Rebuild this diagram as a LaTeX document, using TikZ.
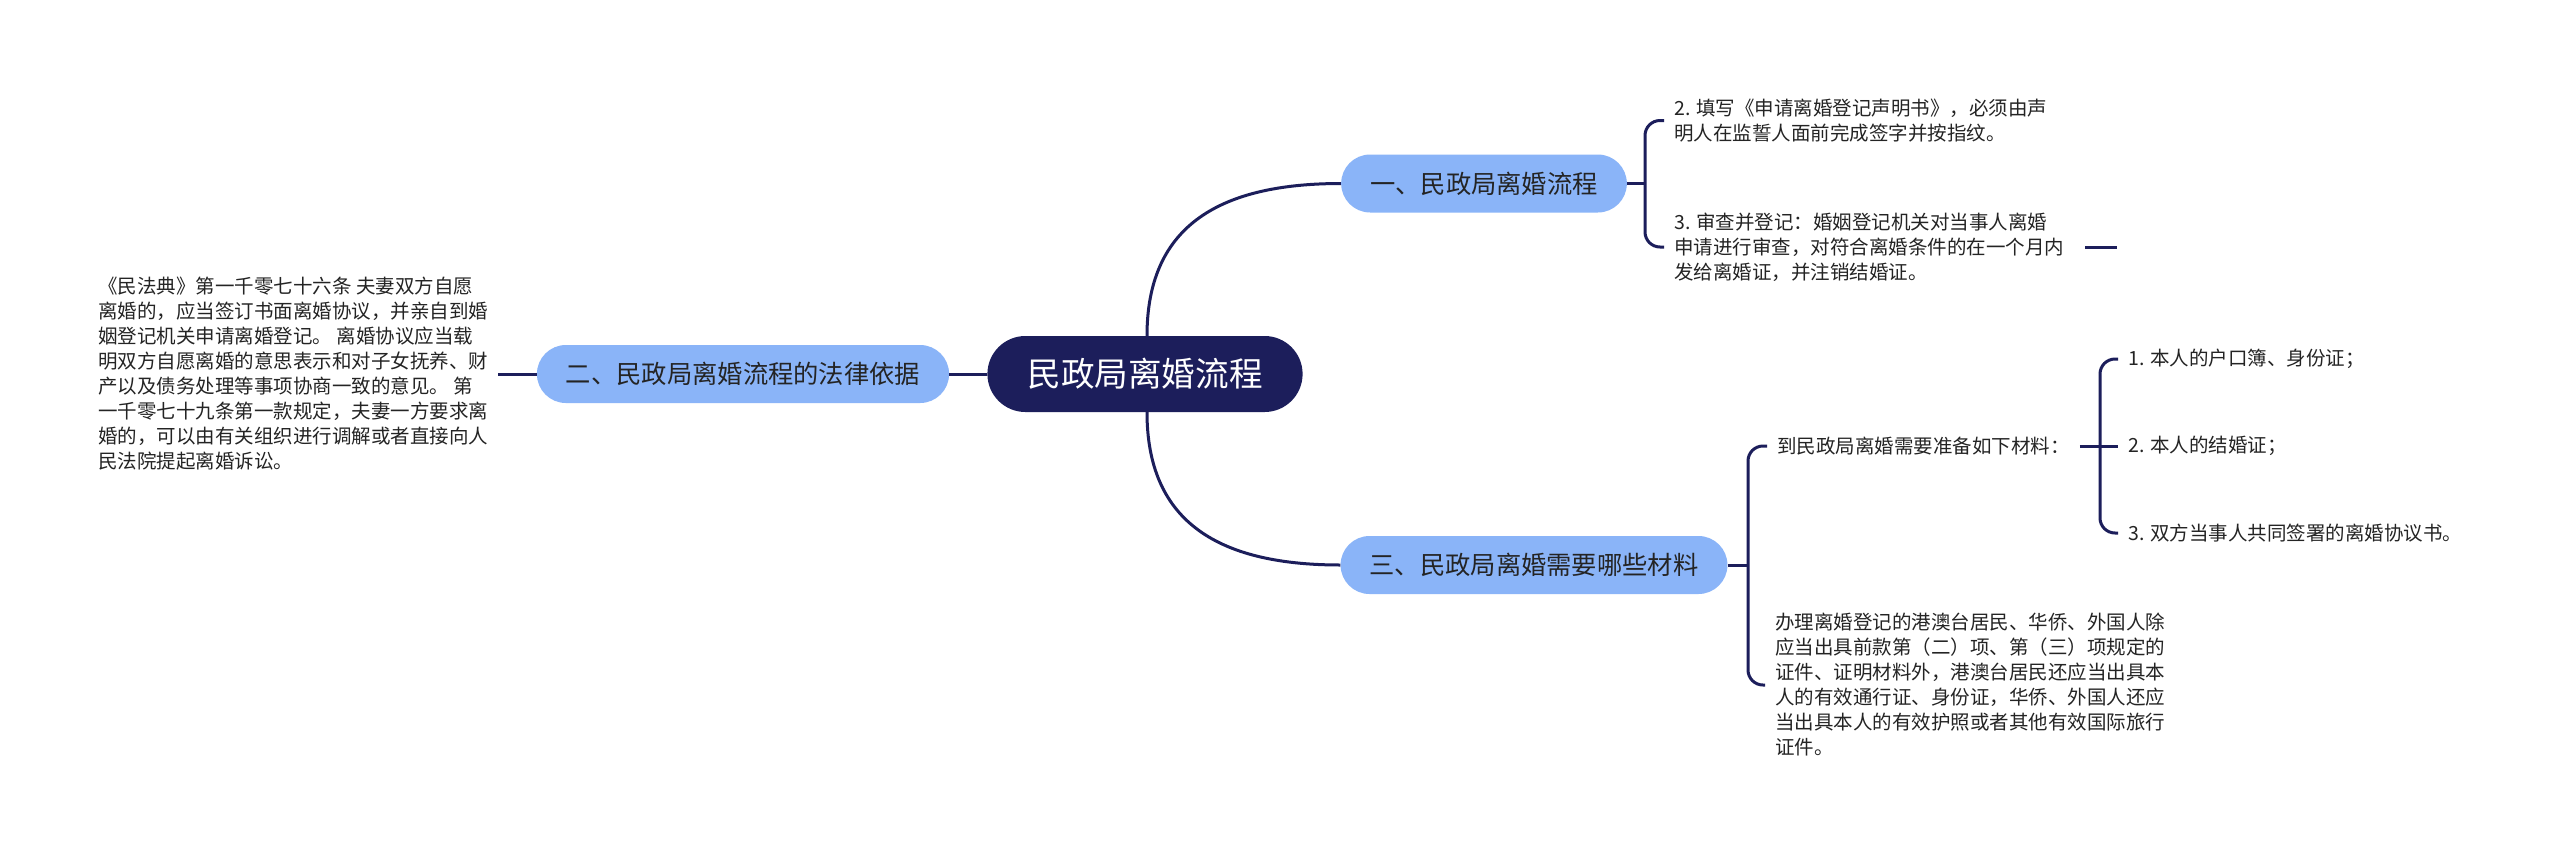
\documentclass[tikz,border=0pt]{standalone}
\usepackage{fontspec}
\newfontfamily\cjk{Noto Sans CJK SC}
\definecolor{mmnavy}{HTML}{1C1E5B}
\definecolor{mmblue}{HTML}{8AB4F8}
\definecolor{mmtxt}{HTML}{242424}
\begin{document}
\begin{tikzpicture}[x=1pt,y=-1pt,
  conn/.style={draw=mmnavy,line width=3pt},
  brace/.style={conn,rounded corners=15pt},
  rootbox/.style={fill=mmnavy,text=white,rounded corners=38pt,minimum height=76pt,inner xsep=40pt,inner ysep=0pt,font=\cjk\fontsize{33.6}{40}\selectfont},
  topic/.style={fill=mmblue,text=mmtxt,rounded corners=29pt,minimum height=58pt,inner xsep=29pt,inner ysep=0pt,font=\cjk\fontsize{25.3}{30}\selectfont},
  leaf/.style={anchor=west,text=mmtxt,align=left,inner xsep=10pt,inner ysep=2pt,font=\cjk\fontsize{19.5}{25}\selectfont},
]
\useasboundingbox[fill=white] (0,0) rectangle (2560,855);

\node[rootbox] (C) at (1145,374) {民政局离婚流程};
\node[topic] (n1) at (1484,183.5) {一、民政局离婚流程};
\node[topic] (n2) at (743,374) {二、民政局离婚流程的法律依据};
\node[topic] (n3) at (1534,565) {三、民政局离婚需要哪些材料};

\node[leaf] (t2) at (1664,120.5) {2. 填写《申请离婚登记声明书》，必须由声\\明人在监誓人面前完成签字并按指纹。};
\node[leaf] (t3) at (1664,247) {3. 审查并登记：婚姻登记机关对当事人离婚\\申请进行审查，对符合离婚条件的在一个月内\\发给离婚证，并注销结婚证。};

\node[leaf] (L) at (88,374) {《民法典》第一千零七十六条 夫妻双方自愿\\离婚的，应当签订书面离婚协议，并亲自到婚\\姻登记机关申请离婚登记。 离婚协议应当载\\明双方自愿离婚的意思表示和对子女抚养、财\\产以及债务处理等事项协商一致的意见。 第\\一千零七十九条第一款规定，夫妻一方要求离\\婚的，可以由有关组织进行调解或者直接向人\\民法院提起离婚诉讼。};

\node[leaf] (m1) at (1767,446) {到民政局离婚需要准备如下材料：};
\node[leaf] (m2) at (1765,685) {办理离婚登记的港澳台居民、华侨、外国人除\\应当出具前款第（二）项、第（三）项规定的\\证件、证明材料外，港澳台居民还应当出具本\\人的有效通行证、身份证，华侨、外国人还应\\当出具本人的有效护照或者其他有效国际旅行\\证件。};

\node[leaf] (c1) at (2118,359) {1. 本人的户口簿、身份证；};
\node[leaf] (c2) at (2118,446) {2. 本人的结婚证；};
\node[leaf] (c3) at (2118,533) {3. 双方当事人共同签署的离婚协议书。};

% root connectors
\draw[conn] ([xshift=2pt]C.north) .. controls +(0,-106) and +(-127,0) .. (n1.west);
\draw[conn] ([xshift=2pt]C.south) .. controls +(0,106) and +(-127,0) .. (n3.west);
\draw[conn] (C.west) -- (n2.east);
\draw[conn] (n2.west) -- (L.east);

% branch one
\coordinate (b1) at (1645,183.5);
\draw[conn] (n1.east) -- (b1);
\draw[brace] (t2.west) -| (b1) |- (t3.west);
\draw[conn] ([xshift=11pt]t3.east) -- ++(32,0);

% branch three
\coordinate (b3) at (1748,565);
\draw[conn] (n3.east) -- (b3);
\draw[brace] (m1.west) -| (b3) |- (m2.west);

\coordinate (b4) at (2100,446);
\draw[conn] (m1.east) -- (c2.west);
\draw[brace] (c1.west) -| (b4) |- (c3.west);
\end{tikzpicture}
\end{document}
